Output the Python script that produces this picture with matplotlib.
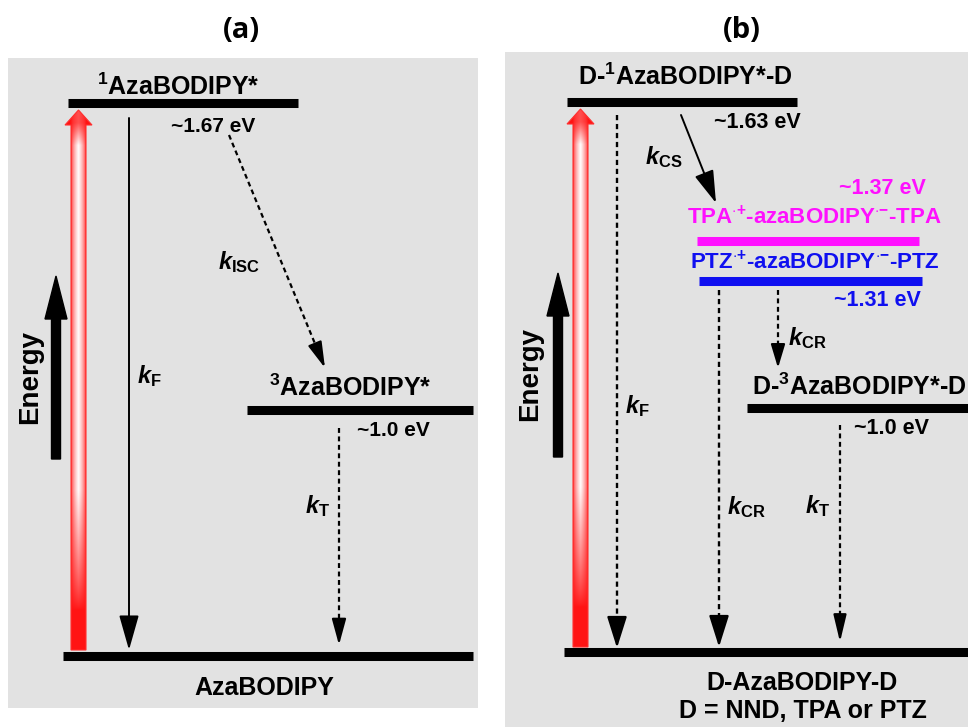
import matplotlib
matplotlib.use('Agg')
import matplotlib.pyplot as plt
import matplotlib.patches as mpatches
import numpy as np

plt.rcParams['font.family'] = ['Liberation Sans', 'DejaVu Sans']
plt.rcParams['font.weight'] = 'bold'
plt.rcParams['mathtext.fontset'] = 'custom'
plt.rcParams['mathtext.rm'] = 'Liberation Sans:bold'
plt.rcParams['mathtext.bf'] = 'Liberation Sans:bold'
plt.rcParams['mathtext.it'] = 'Liberation Sans:italic:bold'
plt.rcParams['mathtext.sf'] = 'Liberation Sans:bold'

BG = '#e2e2e2'
MAGENTA = '#ff10ff'
BLUE = '#1010f0'

# ---- panel (a): levels (label, energy text, x0, x1, y) ----
a_levels = [
    (r'$^{\mathrm{1}}$AzaBODIPY*', '~1.67 eV', 68, 298, 103),
    (r'$^{\mathrm{3}}$AzaBODIPY*', '~1.0 eV', 247, 473, 410),
    ('AzaBODIPY', None, 63, 473, 656),
]
a_level_label_xy = [(178, 95), (350, 396), (264, 688)]
a_energy_xy = [(213, 126), (393, 431)]

# ---- panel (b): levels ----
b_levels = [
    (r'D-$^{\mathrm{1}}$AzaBODIPY*-D', '~1.63 eV', 567, 797, 102, 'black'),
    (r'TPA$^{\cdot{+}}$-azaBODIPY$^{\cdot{-}}$-TPA', '~1.37 eV', 697, 919, 241, MAGENTA),
    (r'PTZ$^{\cdot{+}}$-azaBODIPY$^{\cdot{-}}$-PTZ', '~1.31 eV', 699, 922, 281, BLUE),
    (r'D-$^{\mathrm{3}}$AzaBODIPY*-D', '~1.0 eV', 747, 975, 408, 'black'),
    ('D-AzaBODIPY-D', None, 564, 975, 652, 'black'),
]
b_level_label_xy = [(685, 85, 'center'), (814, 217, 'center_v'), (815, 262, 'center_v'),
                    (752, 395, 'left'), (802, 683, 'center_v')]
b_energy_xy = [(757, 123), (882, 189), (877, 301), (892, 429)]
b_footer = 'D = NND, TPA or PTZ'

# transitions: (x0, y0, x1, y1, dashed, head_len_px, head_w_px, lw)
a_arrows = [
    (129, 118, 129, 650, False, 30, 17, 1.4),   # kF
    (229, 135, 325, 368, True, 22, 12, 1.6),    # kISC
    (339, 428, 339, 645, True, 22, 12, 1.6),    # kT
]
a_rate_labels = [(r'$k_{\mathrm{F}}$', 137, 376), (r'$k_{\mathrm{ISC}}$', 218, 262),
                 (r'$k_{\mathrm{T}}$', 305, 506)]

b_arrows = [
    (617, 115, 617, 648, True, 27, 17, 1.7),    # kF
    (681, 115, 716, 203, False, 28, 17, 1.4),   # kCS
    (719, 290, 719, 647, True, 27, 17, 1.7),    # kCR to ground
    (778, 290, 778, 368, True, 20, 12, 1.6),    # kCR to triplet
    (840, 425, 840, 642, True, 23, 11, 1.6),    # kT
]
b_rate_labels = [(r'$k_{\mathrm{F}}$', 625, 406), (r'$k_{\mathrm{CS}}$', 645, 157),
                 (r'$k_{\mathrm{CR}}$', 788, 338), (r'$k_{\mathrm{CR}}$', 727, 507),
                 (r'$k_{\mathrm{T}}$', 805, 506)]

# excitation (red) arrows: (xc, y_bottom, y_tip)
excitations = [(78.5, 650, 110), (580.5, 647, 109)]
# energy axis arrows: (xc, y_bottom, y_tip, text_x, text_y)
energy_axes = [(56, 459, 276, 30, 377), (558, 457, 273, 530, 374)]

fig = plt.figure(figsize=(9.68, 7.27), dpi=100)
fig.patch.set_facecolor('white')
ax = fig.add_axes([0, 0, 1, 1])
ax.axis('off')

ax.add_patch(mpatches.Rectangle((8, 58), 470, 650, facecolor=BG, edgecolor='none', zorder=0))
ax.add_patch(mpatches.Rectangle((505, 52), 480, 700, facecolor=BG, edgecolor='none', zorder=0))

ax.text(241, 31, '(a)', ha='center', va='center', fontsize=21, family='Open Sans', weight='bold')
ax.text(742, 30, '(b)', ha='center', va='center', fontsize=21, family='Open Sans', weight='bold')


def draw_arrow(x0, y0, x1, y1, dashed, hl, hw, lw):
    style = mpatches.ArrowStyle('-|>', head_length=hl * 0.72 / 10, head_width=hw * 0.36 / 10)
    if dashed:
        # dashed shaft, solid head
        d = np.hypot(x1 - x0, y1 - y0)
        ux, uy = (x1 - x0) / d, (y1 - y0) / d
        ax.plot([x0, x1 - ux * hl * 0.9], [y0, y1 - uy * hl * 0.9], color='black', lw=lw,
                linestyle=(0, (2.2, 1.6)), zorder=4)
        x0, y0 = x1 - ux * (hl + 2), y1 - uy * (hl + 2)
    p = mpatches.FancyArrowPatch((x0, y0), (x1, y1), arrowstyle=style, mutation_scale=10,
                                 lw=lw, color='black', shrinkA=0, shrinkB=0, zorder=4)
    ax.add_patch(p)


def red_arrow(xc, yb, yt, sw=15, hw=27, hl=15):
    verts = [(xc - sw / 2, yb), (xc - sw / 2, yt + hl), (xc - hw / 2, yt + hl), (xc, yt),
             (xc + hw / 2, yt + hl), (xc + sw / 2, yt + hl), (xc + sw / 2, yb)]
    poly = mpatches.Polygon(verts, closed=True, facecolor='none', edgecolor='none', zorder=3)
    ax.add_patch(poly)
    xs = np.linspace(xc - hw / 2, xc + hw / 2, 120)
    ys = np.linspace(yt, yb, 800)
    u = np.abs(xs - xc) / (sw / 2)
    horiz = np.clip(1 - u, 0, 1) ** 0.55
    t = ys - yt
    v = np.clip((t - 5) / 30, 0.25, 1.0)
    v = v * np.clip((yb - 40 - ys) / 120, 0, 1) ** 0.8
    w = v[:, None] * horiz[None, :]
    red = np.array([1.0, 0.08, 0.08])
    rgb = red[None, None, :] * (1 - w[..., None]) + w[..., None]
    im = ax.imshow(rgb, extent=(xs[0], xs[-1], yb, yt), aspect='auto',
                   interpolation='bilinear', zorder=3)
    im.set_clip_path(poly)
    ax.add_patch(mpatches.Polygon(verts, closed=True, facecolor='none',
                                  edgecolor='#ff3030', lw=0.8, zorder=3))


# panel (a)
for (lab, en, x0, x1, y), (lx, ly) in zip(a_levels, a_level_label_xy):
    ax.plot([x0, x1], [y, y], color='black', lw=6.5, solid_capstyle='butt', zorder=2)
    if en is None:
        ax.text(lx, ly, lab, ha='center', va='center', fontsize=18)
    else:
        ax.text(lx, ly, lab, ha='center', va='baseline', fontsize=18)
for (lab, en, x0, x1, y), (ex, ey) in zip(a_levels[:2], a_energy_xy):
    ax.text(ex, ey, en, ha='center', va='center', fontsize=15)
for arr in a_arrows:
    draw_arrow(*arr)
for lab, x, y in a_rate_labels:
    ax.text(x, y, lab, ha='left', va='center', fontsize=17)

# panel (b)
for (lab, en, x0, x1, y, c), (lx, ly, mode) in zip(b_levels, b_level_label_xy):
    ax.plot([x0, x1], [y, y], color=c, lw=6.5, solid_capstyle='butt', zorder=2)
    if mode == 'center':
        ax.text(lx, ly, lab, ha='center', va='baseline', fontsize=18, color=c)
    elif mode == 'left':
        ax.text(lx, ly, lab, ha='left', va='baseline', fontsize=18, color=c)
    else:
        fs = 18 if c == 'black' else 16
        ax.text(lx, ly, lab, ha='center', va='center', fontsize=fs, color=c)
for (lab, en, x0, x1, y, c), (ex, ey) in zip(b_levels[:4], b_energy_xy):
    ax.text(ex, ey, en, ha='center', va='center', fontsize=15.5, color=c)
ax.text(803, 711, b_footer, ha='center', va='center', fontsize=18)
for arr in b_arrows:
    draw_arrow(*arr)
for lab, x, y in b_rate_labels:
    ax.text(x, y, lab, ha='left', va='center', fontsize=17)

for xc, yb, yt in excitations:
    red_arrow(xc, yb, yt)

for xc, yb, yt, tx, ty in energy_axes:
    ax.add_patch(mpatches.FancyArrow(xc, yb, 0, yt - yb, width=9, head_width=22, head_length=43,
                                     length_includes_head=True, color='black', zorder=3))
    ax.text(tx, ty, 'Energy', rotation=90, ha='center', va='center', fontsize=20)

ax.set_xlim(0, 968)
ax.set_ylim(727, 0)
fig.savefig('out.png', dpi=100, facecolor='white')
